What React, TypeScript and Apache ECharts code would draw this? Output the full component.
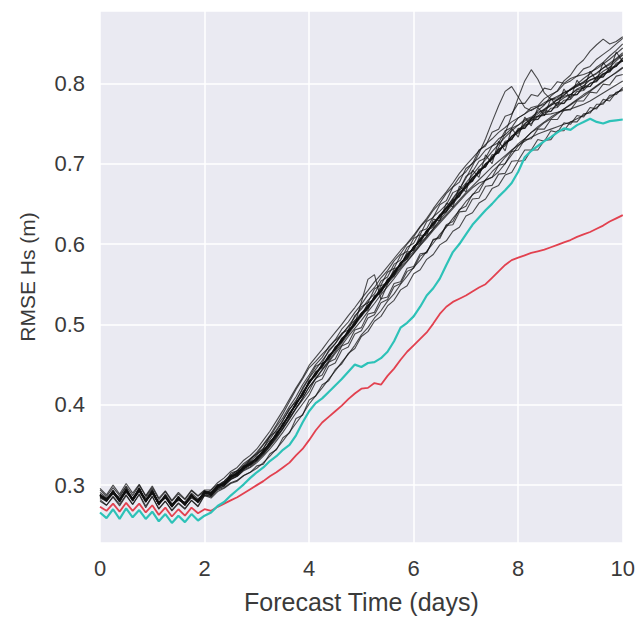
import React, { useEffect, useRef } from "react";
import * as echarts from "echarts";

// Forecast lead time (days), 3-hourly
const forecastDays = [
  0, 0.125, 0.25, 0.375, 0.5, 0.625, 0.75, 0.875,
  1, 1.125, 1.25, 1.375, 1.5, 1.625, 1.75, 1.875,
  2, 2.125, 2.25, 2.375, 2.5, 2.625, 2.75, 2.875,
  3, 3.125, 3.25, 3.375, 3.5, 3.625, 3.75, 3.875,
  4, 4.125, 4.25, 4.375, 4.5, 4.625, 4.75, 4.875,
  5, 5.125, 5.25, 5.375, 5.5, 5.625, 5.75, 5.875,
  6, 6.125, 6.25, 6.375, 6.5, 6.625, 6.75, 6.875,
  7, 7.125, 7.25, 7.375, 7.5, 7.625, 7.75, 7.875,
  8, 8.125, 8.25, 8.375, 8.5, 8.625, 8.75, 8.875,
  9, 9.125, 9.25, 9.375, 9.5, 9.625, 9.75, 9.875,
  10,
];

const xTicks = [0, 2, 4, 6, 8, 10];
const yTickLabels = ["0.3", "0.4", "0.5", "0.6", "0.7", "0.8"];

// Ensemble members (black), RMSE Hs (m)
const mA = [
  .291,.284,.290,.285,.298,.280,.293,.284, .295,.275,.289,.277,.281,.279,.290,.283,
  .289,.294,.301,.299,.315,.318,.320,.333, .339,.345,.361,.367,.380,.395,.404,.421,
  .434,.448,.452,.468,.476,.489,.493,.511, .519,.530,.538,.554,.559,.575,.580,.596,
  .601,.616,.619,.634,.641,.649,.664,.668, .684,.690,.703,.707,.722,.726,.741,.745,
  .757,.762,.770,.772,.781,.786,.790,.799, .803,.809,.818,.821,.830,.836,.842,.849,
  .856,
];
const mB = [
  .280,.275,.285,.274,.287,.276,.288,.272, .286,.270,.280,.268,.277,.270,.281,.273,
  .287,.284,.292,.296,.302,.305,.312,.316, .324,.326,.339,.344,.359,.365,.383,.387,
  .406,.411,.425,.430,.444,.451,.464,.470, .485,.491,.504,.510,.523,.530,.543,.548,
  .563,.568,.581,.587,.599,.604,.616,.621, .635,.639,.651,.656,.669,.673,.686,.689,
  .703,.704,.717,.717,.729,.730,.741,.741, .752,.752,.762,.763,.774,.774,.785,.786,
  .795,
];
const mC = [
  .288,.283,.293,.279,.295,.283,.296,.279, .293,.278,.285,.275,.286,.275,.288,.279,
  .292,.288,.299,.301,.311,.313,.323,.326, .334,.341,.353,.362,.376,.387,.402,.412,
  .427,.439,.448,.460,.469,.481,.490,.500, .528,.556,.562,.531,.550,.566,.574,.588,
  .593,.606,.613,.627,.633,.645,.651,.664, .670,.683,.688,.700,.705,.718,.722,.734,
  .738,.748,.750,.759,.760,.769,.770,.779, .780,.790,.791,.800,.802,.812,.814,.825,
  .828,
];
const mD = [
  .286,.282,.291,.282,.293,.283,.294,.281, .291,.278,.287,.273,.285,.275,.288,.279,
  .290,.290,.297,.303,.309,.315,.321,.328, .332,.343,.351,.364,.374,.389,.400,.414,
  .427,.439,.448,.460,.469,.481,.490,.502, .511,.523,.532,.544,.553,.565,.574,.586,
  .594,.606,.614,.626,.633,.644,.651,.663, .671,.682,.689,.699,.706,.720,.738,.760,
  .782,.803,.817,.805,.788,.780,.779,.784, .786,.792,.794,.800,.803,.811,.815,.823,
  .829,
];
const mE = [
  .289,.280,.294,.280,.296,.281,.297,.279, .294,.276,.288,.273,.286,.275,.289,.279,
  .293,.288,.300,.301,.312,.313,.324,.326, .335,.341,.354,.362,.377,.387,.403,.412,
  .430,.437,.451,.458,.472,.479,.493,.500, .514,.521,.535,.542,.556,.563,.577,.584,
  .597,.604,.617,.624,.636,.645,.657,.668, .682,.697,.713,.731,.752,.772,.790,.796,
  .783,.770,.766,.771,.774,.780,.782,.789, .792,.798,.801,.808,.812,.819,.823,.830,
  .836,
];
const mF = [
  .287,.283,.292,.283,.294,.284,.295,.282, .292,.279,.286,.276,.284,.278,.287,.281,
  .291,.291,.298,.304,.310,.316,.322,.329, .333,.344,.352,.365,.375,.390,.401,.415,
  .428,.440,.449,.461,.470,.482,.491,.503, .512,.524,.533,.545,.554,.566,.575,.587,
  .595,.607,.615,.627,.634,.645,.652,.664, .672,.683,.690,.700,.707,.718,.724,.734,
  .740,.750,.756,.766,.773,.784,.791,.803, .810,.822,.829,.840,.848,.855,.849,.852,
  .858,
];
const mG = [
  .282,.275,.286,.276,.288,.276,.289,.274, .286,.271,.280,.269,.278,.271,.281,.274,
  .288,.286,.295,.299,.307,.311,.319,.323, .330,.338,.348,.358,.370,.382,.395,.406,
  .417,.433,.437,.453,.457,.473,.477,.493, .496,.513,.515,.532,.534,.551,.553,.570,
  .572,.588,.589,.606,.607,.623,.624,.640, .641,.656,.657,.672,.673,.687,.688,.703,
  .704,.717,.717,.730,.728,.741,.739,.751, .749,.760,.758,.770,.768,.780,.778,.789,
  .791,
];
const mH = [
  .296,.288,.300,.289,.302,.290,.301,.287, .299,.284,.293,.281,.291,.283,.294,.287,
  .294,.294,.303,.309,.317,.322,.331,.337, .345,.356,.367,.380,.393,.407,.421,.434,
  .449,.459,.469,.480,.490,.500,.511,.521, .532,.542,.553,.562,.572,.582,.592,.601,
  .611,.622,.632,.644,.655,.665,.676,.688, .698,.707,.716,.724,.731,.739,.745,.752,
  .757,.762,.767,.771,.776,.780,.784,.788, .792,.796,.800,.804,.807,.812,.816,.822,
  .828,
];
const mI = [
  .284,.280,.289,.281,.291,.282,.292,.280, .289,.277,.284,.274,.282,.276,.284,.279,
  .287,.286,.294,.297,.303,.306,.312,.316, .321,.328,.336,.345,.355,.366,.377,.388,
  .401,.411,.421,.432,.442,.453,.463,.474, .487,.496,.508,.517,.529,.538,.550,.560,
  .571,.580,.591,.601,.612,.621,.632,.642, .653,.661,.671,.680,.690,.698,.708,.716,
  .725,.731,.739,.744,.751,.756,.762,.768, .774,.780,.786,.791,.797,.803,.808,.813,
  .819,
];
const mJ = [
  .288,.280,.293,.282,.293,.281,.296,.281, .291,.276,.287,.275,.283,.277,.286,.281,
  .292,.287,.299,.300,.311,.312,.323,.325, .335,.340,.354,.361,.377,.386,.403,.411,
  .430,.436,.451,.457,.472,.478,.493,.499, .514,.520,.535,.541,.556,.562,.577,.583,
  .597,.603,.617,.623,.636,.641,.654,.660, .674,.679,.692,.696,.709,.714,.726,.730,
  .742,.744,.754,.755,.764,.765,.774,.775, .784,.786,.795,.796,.806,.808,.818,.821,
  .832,
];
const mK = [
  .287,.282,.292,.282,.294,.283,.295,.281, .292,.278,.287,.275,.285,.277,.287,.281,
  .292,.290,.299,.303,.311,.316,.324,.330, .337,.346,.357,.369,.381,.394,.406,.419,
  .433,.444,.455,.466,.476,.487,.498,.509, .522,.527,.544,.549,.565,.570,.586,.591,
  .607,.612,.628,.633,.649,.654,.671,.677, .694,.700,.717,.722,.739,.743,.759,.762,
  .775,.775,.786,.784,.794,.792,.802,.800, .806,.809,.811,.814,.818,.824,.830,.837,
  .844,
];
const mL = [
  .286,.281,.291,.280,.293,.282,.294,.280, .291,.277,.285,.274,.284,.276,.286,.280,
  .290,.289,.297,.301,.309,.313,.320,.325, .331,.340,.349,.360,.371,.384,.396,.408,
  .422,.432,.443,.453,.464,.474,.485,.495, .505,.516,.526,.537,.547,.557,.568,.578,
  .588,.598,.607,.617,.626,.635,.644,.653, .662,.670,.676,.679,.683,.690,.700,.711,
  .722,.731,.739,.746,.752,.758,.763,.768, .773,.779,.784,.790,.796,.802,.808,.814,
  .820,
];
const mM = [
  .294,.286,.297,.287,.299,.287,.300,.286, .297,.282,.292,.280,.289,.282,.293,.286,
  .293,.291,.299,.305,.312,.318,.325,.332, .339,.350,.360,.373,.384,.398,.410,.425,
  .437,.450,.459,.472,.481,.494,.503,.515, .525,.537,.546,.558,.567,.579,.588,.600,
  .609,.621,.630,.642,.651,.663,.671,.683, .690,.701,.707,.717,.722,.731,.736,.744,
  .748,.755,.758,.764,.767,.773,.776,.782, .786,.793,.797,.804,.808,.815,.820,.828,
  .835,
];
const mN = [
  .285,.281,.290,.280,.292,.281,.293,.279, .290,.276,.285,.273,.283,.275,.286,.278,
  .289,.287,.296,.299,.307,.311,.318,.322, .328,.336,.345,.355,.366,.378,.390,.401,
  .412,.428,.432,.448,.452,.468,.472,.488, .492,.508,.512,.527,.531,.547,.551,.566,
  .570,.585,.590,.605,.609,.624,.628,.643, .647,.662,.665,.680,.683,.698,.700,.715,
  .717,.730,.731,.743,.743,.755,.755,.767, .767,.778,.778,.789,.788,.799,.798,.809,
  .811,
];
const mO = [
  .288,.282,.291,.281,.294,.282,.295,.280, .292,.277,.286,.274,.284,.276,.287,.280,
  .291,.289,.298,.302,.310,.314,.322,.327, .334,.342,.353,.363,.376,.388,.402,.413,
  .428,.437,.449,.458,.470,.479,.491,.500, .512,.521,.533,.542,.554,.563,.575,.584,
  .596,.604,.616,.624,.635,.642,.653,.661, .673,.680,.691,.697,.708,.715,.725,.731,
  .741,.746,.754,.759,.767,.772,.780,.785, .793,.799,.806,.812,.820,.826,.834,.841,
  .849,
];
const mP = [
  .287,.281,.292,.282,.293,.282,.294,.281, .292,.277,.286,.275,.284,.276,.287,.280,
  .291,.289,.298,.302,.310,.315,.322,.327, .333,.342,.353,.364,.375,.389,.401,.414,
  .428,.439,.449,.460,.470,.481,.491,.502, .512,.523,.533,.544,.554,.565,.575,.586,
  .595,.606,.616,.626,.636,.646,.656,.666, .676,.686,.696,.705,.715,.724,.733,.741,
  .748,.753,.757,.759,.761,.762,.764,.766, .768,.771,.774,.778,.783,.788,.793,.798,
  .803,
];
const mQ = [
  .288,.283,.292,.282,.295,.283,.295,.281, .293,.278,.287,.274,.285,.277,.288,.281,
  .292,.291,.300,.305,.313,.318,.327,.333, .341,.351,.362,.375,.389,.404,.419,.432,
  .446,.454,.463,.471,.480,.488,.497,.505, .514,.523,.532,.541,.551,.560,.570,.579,
  .589,.599,.609,.619,.630,.640,.650,.660, .670,.679,.689,.698,.707,.716,.725,.734,
  .742,.749,.756,.762,.768,.774,.780,.786, .792,.797,.802,.808,.813,.819,.825,.831,
  .838,
];
const mR = [
  .286,.280,.291,.279,.293,.281,.293,.279, .291,.276,.285,.273,.283,.275,.286,.279,
  .290,.288,.296,.301,.308,.312,.320,.325, .331,.339,.349,.360,.371,.383,.396,.408,
  .422,.433,.444,.455,.466,.477,.488,.499, .510,.520,.531,.541,.552,.562,.572,.582,
  .591,.601,.610,.619,.628,.637,.646,.655, .664,.672,.680,.688,.696,.703,.710,.717,
  .723,.728,.733,.737,.740,.743,.746,.749, .752,.756,.760,.765,.770,.776,.782,.788,
  .793,
];
const mS = [
  .287,.282,.293,.281,.294,.282,.296,.280, .292,.277,.286,.274,.285,.276,.288,.280,
  .291,.290,.297,.303,.309,.315,.321,.328, .332,.344,.350,.365,.373,.390,.399,.416,
  .426,.441,.446,.462,.468,.483,.489,.505, .510,.527,.531,.548,.552,.569,.573,.590,
  .592,.611,.611,.631,.629,.651,.646,.672, .665,.692,.683,.711,.700,.728,.716,.744,
  .733,.758,.747,.770,.760,.781,.771,.793, .781,.804,.792,.815,.803,.826,.815,.839,
  .827,
];
const mT = [
  .288,.281,.291,.281,.294,.281,.295,.280, .292,.277,.286,.274,.284,.277,.287,.280,
  .291,.289,.298,.302,.310,.314,.321,.327, .333,.341,.351,.362,.374,.387,.400,.412,
  .427,.437,.448,.458,.469,.479,.490,.500, .514,.518,.535,.539,.556,.560,.577,.581,
  .597,.601,.617,.621,.636,.640,.655,.659, .675,.678,.693,.696,.711,.713,.728,.730,
  .744,.744,.756,.755,.766,.765,.776,.775, .786,.786,.797,.796,.808,.808,.820,.821,
  .831,
];
const ensembleMembers = [mA, mB, mC, mD, mE, mF, mG, mH, mI, mJ, mK, mL, mM, mN, mO, mP, mQ, mR, mS, mT];

// Cyan run
const cyanRmse = [
  .266,.259,.270,.258,.271,.260,.269,.258, .267,.255,.264,.253,.262,.254,.264,.256,
  .262,.266,.274,.279,.287,.294,.301,.309, .316,.322,.330,.336,.344,.350,.362,.378,
  .392,.402,.408,.416,.424,.432,.441,.450, .447,.452,.453,.458,.466,.479,.496,.502,
  .510,.522,.536,.545,.557,.574,.590,.600, .612,.624,.633,.642,.650,.659,.667,.676,
  .690,.708,.716,.722,.728,.733,.739,.744, .742,.748,.752,.756,.752,.750,.753,.754,
  .755,
];

// Red run
const redRmse = [
  .273,.268,.277,.267,.278,.268,.277,.266, .275,.263,.272,.261,.270,.262,.272,.265,
  .270,.268,.273,.277,.281,.285,.290,.295, .300,.305,.311,.316,.322,.328,.337,.345,
  .356,.368,.378,.385,.392,.399,.407,.414, .420,.421,.427,.425,.436,.445,.456,.466,
  .474,.482,.490,.501,.513,.522,.528,.532, .536,.541,.546,.550,.558,.566,.574,.580,
  .583,.586,.589,.591,.593,.596,.599,.602, .605,.609,.612,.615,.619,.623,.628,.632,
  .636,
];

const FONT = "'Liberation Sans', Arial, Helvetica, sans-serif";
const TEXT = "#3a3a3a";

function pair(vals: number[]) {
  return vals.map((v, i) => [forecastDays[i], v]);
}

export default function App() {
  const ref = useRef<HTMLDivElement>(null);
  useEffect(() => {
    if (!ref.current) return;
    const chart = echarts.init(ref.current, null, { renderer: "svg" });
    const series: any[] = ensembleMembers.map((m, k) => ({
      name: "member" + (k + 1),
      type: "line",
      data: pair(m),
      symbol: "none",
      silent: true,
      z: 2,
      lineStyle: { color: "#111111", width: 1.1, opacity: 0.75 },
    }));
    series.push({
      name: "red",
      type: "line",
      data: pair(redRmse),
      symbol: "none",
      silent: true,
      z: 3,
      lineStyle: { color: "#E2414F", width: 1.8 },
    });
    series.push({
      name: "cyan",
      type: "line",
      data: pair(cyanRmse),
      symbol: "none",
      silent: true,
      z: 4,
      lineStyle: { color: "#2DC2B8", width: 2.2 },
    });
    chart.setOption({
      animation: false,
      backgroundColor: "#ffffff",
      textStyle: { fontFamily: FONT },
      grid: {
        left: 100,
        right: 12,
        top: 11,
        bottom: 71,
        show: true,
        backgroundColor: "#EAEAF2",
        borderWidth: 0,
      },
      xAxis: {
        type: "value",
        min: 0,
        max: 10,
        interval: 2,
        name: "Forecast Time (days)",
        nameLocation: "middle",
        nameGap: 46,
        nameTextStyle: { fontSize: 25, color: TEXT, fontFamily: FONT },
        axisLine: { show: false },
        axisTick: { show: false },
        axisLabel: {
          fontSize: 22,
          color: TEXT,
          fontFamily: FONT,
          margin: 14,
          formatter: (v: number) => (xTicks.includes(v) ? String(v) : ""),
        },
        splitLine: { show: true, lineStyle: { color: "#ffffff", width: 1.5 } },
      },
      yAxis: {
        type: "value",
        min: 0.228,
        max: 0.89,
        splitNumber: 5,
        name: "RMSE Hs (m)",
        nameLocation: "middle",
        nameGap: 62,
        nameTextStyle: { fontSize: 21, color: TEXT, fontFamily: FONT },
        axisLine: { show: false },
        axisTick: { show: false },
        axisLabel: {
          fontSize: 22,
          color: TEXT,
          fontFamily: FONT,
          margin: 15,
          showMinLabel: false,
          showMaxLabel: false,
          formatter: (v: number) => {
            const s = v.toFixed(1);
            return yTickLabels.includes(s) && Math.abs(v - parseFloat(s)) < 1e-6 ? s : "";
          },
        },
        splitLine: { show: true, lineStyle: { color: "#ffffff", width: 1.5 } },
      },
      series,
    });
    return () => chart.dispose();
  }, []);
  return (
    <div
      ref={ref}
      style={{ position: "absolute", left: 0, top: 0, width: 638, height: 619 }}
    />
  );
}
